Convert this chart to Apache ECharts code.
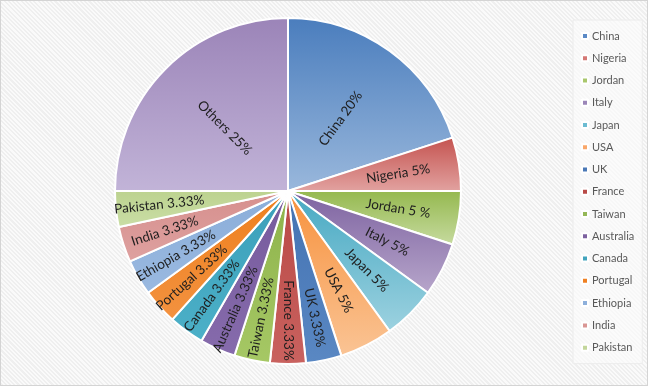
<!DOCTYPE html>
<html>
<head>
<meta charset="utf-8">
<script src="https://cdn.jsdelivr.net/npm/echarts@6/dist/echarts.min.js"></script>
<style>
  html, body { margin: 0; padding: 0; }
  #main {
    width: 646px;
    height: 384px;
    border: 1px solid #d4d4d4;
    background: repeating-linear-gradient(45deg, #efefef 0px, #efefef 1.5px, #fafafa 1.5px, #fafafa 3px);
  }
</style>
</head>
<body>
<div id="main"></div>
<script>
// slice names, values and label texts (as written in the chart)
var names = ['China', 'Nigeria', 'Jordan', 'Italy', 'Japan', 'USA', 'UK', 'France', 'Taiwan',
  'Australia', 'Canada', 'Portugal', 'Ethiopia', 'India', 'Pakistan', 'Others']
var values = [20, 5, 5, 5, 5, 5, 3.33, 3.33, 3.33, 3.33, 3.33, 3.33, 3.33, 3.33, 3.33, 25]
var labelTexts = ['China 20%', 'Nigeria 5%', 'Jordan 5 %', 'Italy 5%', 'Japan 5%', 'USA 5%',
  'UK 3.33%', 'France 3.33%', 'Taiwan 3.33%', 'Australia 3.33%', 'Canada 3.33%',
  'Portugal 3.33%', 'Ethiopia 3.33%', 'India 3.33%', 'Pakistan 3.33%', 'Others 25%']
var legendNames = names.slice(0, 15)

// gradient colours: [outer/top, inner/bottom]
var colors = [
  ['#4a7dbd', '#9ab8dc'],
  ['#c4524e', '#e2a3a1'],
  ['#94b84e', '#c7dba0'],
  ['#7d62a0', '#b7a6cb'],
  ['#45a8c2', '#9dd2e0'],
  ['#f7913c', '#fac495'],
  ['#4372b2', '#5a88c3'],
  ['#b94845', '#c9625f'],
  ['#8db24a', '#a6c865'],
  ['#765a9c', '#866bac'],
  ['#3a9fb9', '#4cb0c8'],
  ['#ee7f1c', '#f39240'],
  ['#8aadd9', '#9ab9e0'],
  ['#d68f8d', '#dea1a0'],
  ['#bcd28f', '#cadea6'],
  ['#9b84b8', '#c2b4d8']
]
var legendColors = ['#5b8ac6', '#d47875', '#a9c76c', '#9b86b8', '#6cbcd2', '#f9a76a',
  '#4a78b6', '#b84a47', '#95b857', '#7d62a0', '#42a4bd', '#ef8022', '#8eb0db', '#d99694', '#c3d69b']

var chart = echarts.init(document.getElementById('main'), null, { renderer: 'canvas' })

var total = values.reduce(function(a, b) { return a + b }, 0)

function tierOf(v) {
  if (v >= 20) return 0
  if (v >= 5) return 1
  return 2
}

function grad(c) {
  return new echarts.graphic.LinearGradient(0, 0, 0, 1, [
    { offset: 0, color: c[0] },
    { offset: 1, color: c[1] }
  ])
}

var labelStyle = {
  position: 'inside',
  rotate: 'radial',
  color: '#1e1e1e',
  fontSize: 13.5,
  fontFamily: 'Lato',
  formatter: function(p) { return labelTexts[p.dataIndex] }
}

function makeData(tier, visible) {
  var acc = 0
  return names.map(function(n, i) {
    var mid = (acc + values[i] / 2) / total
    acc += values[i]
    var d = { name: n, value: values[i] }
    d.itemStyle = visible ? { color: grad(colors[i]) } : { color: 'transparent', borderWidth: 0 }
    d.label = { show: tierOf(values[i]) === tier }
    // slice centred straight down: text reads top to bottom
    if (Math.abs(mid - 0.5) < 0.005) d.label.rotate = -90
    return d
  })
}

var common = {
  type: 'pie',
  center: [287, 190],
  startAngle: 90,
  clockwise: true,
  avoidLabelOverlap: false,
  labelLine: { show: false },
  label: labelStyle,
  emphasis: { disabled: true },
  animation: false
}

var option = {
  backgroundColor: 'transparent',
  legend: {
    orient: 'vertical',
    left: 572,
    top: 19,
    width: 60,
    padding: [9, 8, 9, 8],
    backgroundColor: 'rgba(252,252,252,0.6)',
    borderColor: '#ececec',
    borderWidth: 1,
    itemWidth: 6,
    itemHeight: 6,
    itemGap: 8.26,
    icon: 'rect',
    textStyle: { color: '#595959', fontSize: 11, fontFamily: 'Lato', lineHeight: 14, padding: [0, 0, 0, -1] },
    data: legendNames.map(function(n, i) {
      return { name: n, itemStyle: { color: legendColors[i] } }
    })
  },
  series: [
    Object.assign({}, common, {
      name: 'main',
      radius: [0, 173],
      itemStyle: { borderColor: '#ffffff', borderWidth: 2 },
      data: makeData(0, true)
    }),
    Object.assign({}, common, {
      name: 'labels5',
      radius: [44, 173],
      silent: true,
      data: makeData(1, false)
    }),
    Object.assign({}, common, {
      name: 'labels3',
      radius: [80, 173],
      silent: true,
      data: makeData(2, false)
    })
  ]
}

chart.setOption(option)
</script>
</body>
</html>
